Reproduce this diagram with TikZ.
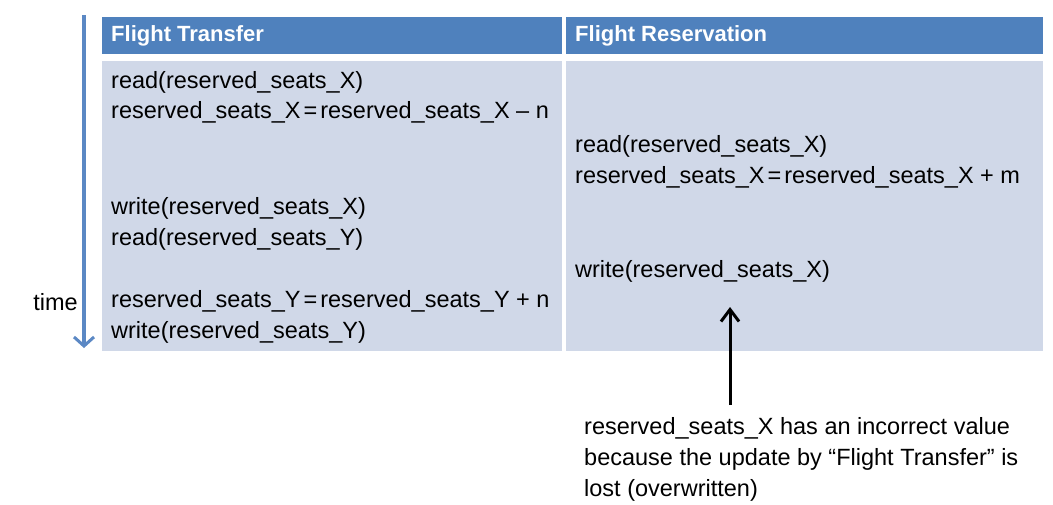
\documentclass[tikz,border=0pt]{standalone}
\usepackage{fontspec}
\setmainfont{Liberation Sans}
\usetikzlibrary{arrows.meta}
\definecolor{hdr}{HTML}{4F81BD}
\definecolor{cell}{HTML}{D0D8E8}
\definecolor{tarrow}{HTML}{5B88C4}
\newcommand{\eqsp}{\hspace{3pt}=\hspace{3pt}}
\begin{document}
\begin{tikzpicture}[x=1pt,y=-1pt,
  txt/.style={anchor=west,inner sep=0pt,font=\fontsize{23.5}{28}\selectfont},
  hdrtxt/.style={anchor=west,inner sep=0pt,text=white,font=\fontsize{22}{26}\selectfont\bfseries}]
\useasboundingbox (0,0) rectangle (1053,504);
% cells
\fill[hdr] (102,17) rectangle (562,54);
\fill[hdr] (566,17) rectangle (1043,54);
\fill[cell] (102,61) rectangle (562,351);
\fill[cell] (566,61) rectangle (1043,351);
\node[hdrtxt] (h1) at (111,36) {Flight Transfer};
\node[hdrtxt] (h2) at (575,36) {Flight Reservation};
% left column
\node[txt] (l1) at (111,82) {read(reserved\_seats\_X)};
\node[txt] (l2) at (111,112) {reserved\_seats\_X\eqsp reserved\_seats\_X – n};
\node[txt] (l3) at (111,208) {write(reserved\_seats\_X)};
\node[txt] (l4) at (111,239) {read(reserved\_seats\_Y)};
\node[txt] (l5) at (111,301) {reserved\_seats\_Y\eqsp reserved\_seats\_Y + n};
\node[txt] (l6) at (111,332) {write(reserved\_seats\_Y)};
% right column
\node[txt] (r1) at (575,146) {read(reserved\_seats\_X)};
\node[txt] (r2) at (575,177) {reserved\_seats\_X\eqsp reserved\_seats\_X + m};
\node[txt] (r3) at (575,271) {write(reserved\_seats\_X)};
% time arrow
\coordinate (t0) at (84,15);
\coordinate (t1) at (84,348);
\draw[tarrow,line width=3.5pt,-{Straight Barb[length=9pt,width=20pt,line width=3pt]}] (t0) -- (t1);
\node[txt,anchor=east] (time) at (78,302) {time};
% note
\node[txt,anchor=north west,align=left,font=\fontsize{23.5}{31}\selectfont] (note) at (584,417)
 {reserved\_seats\_X has an incorrect value\\because the update by “Flight Transfer” is\\lost (overwritten)};
\coordinate (nb) at (730,405);
\coordinate (nt) at (730,307);
\draw[black,line width=3pt,-{Straight Barb[length=12pt,width=18pt,line width=3pt]}] (nb) -- (nt);
\end{tikzpicture}
\end{document}
